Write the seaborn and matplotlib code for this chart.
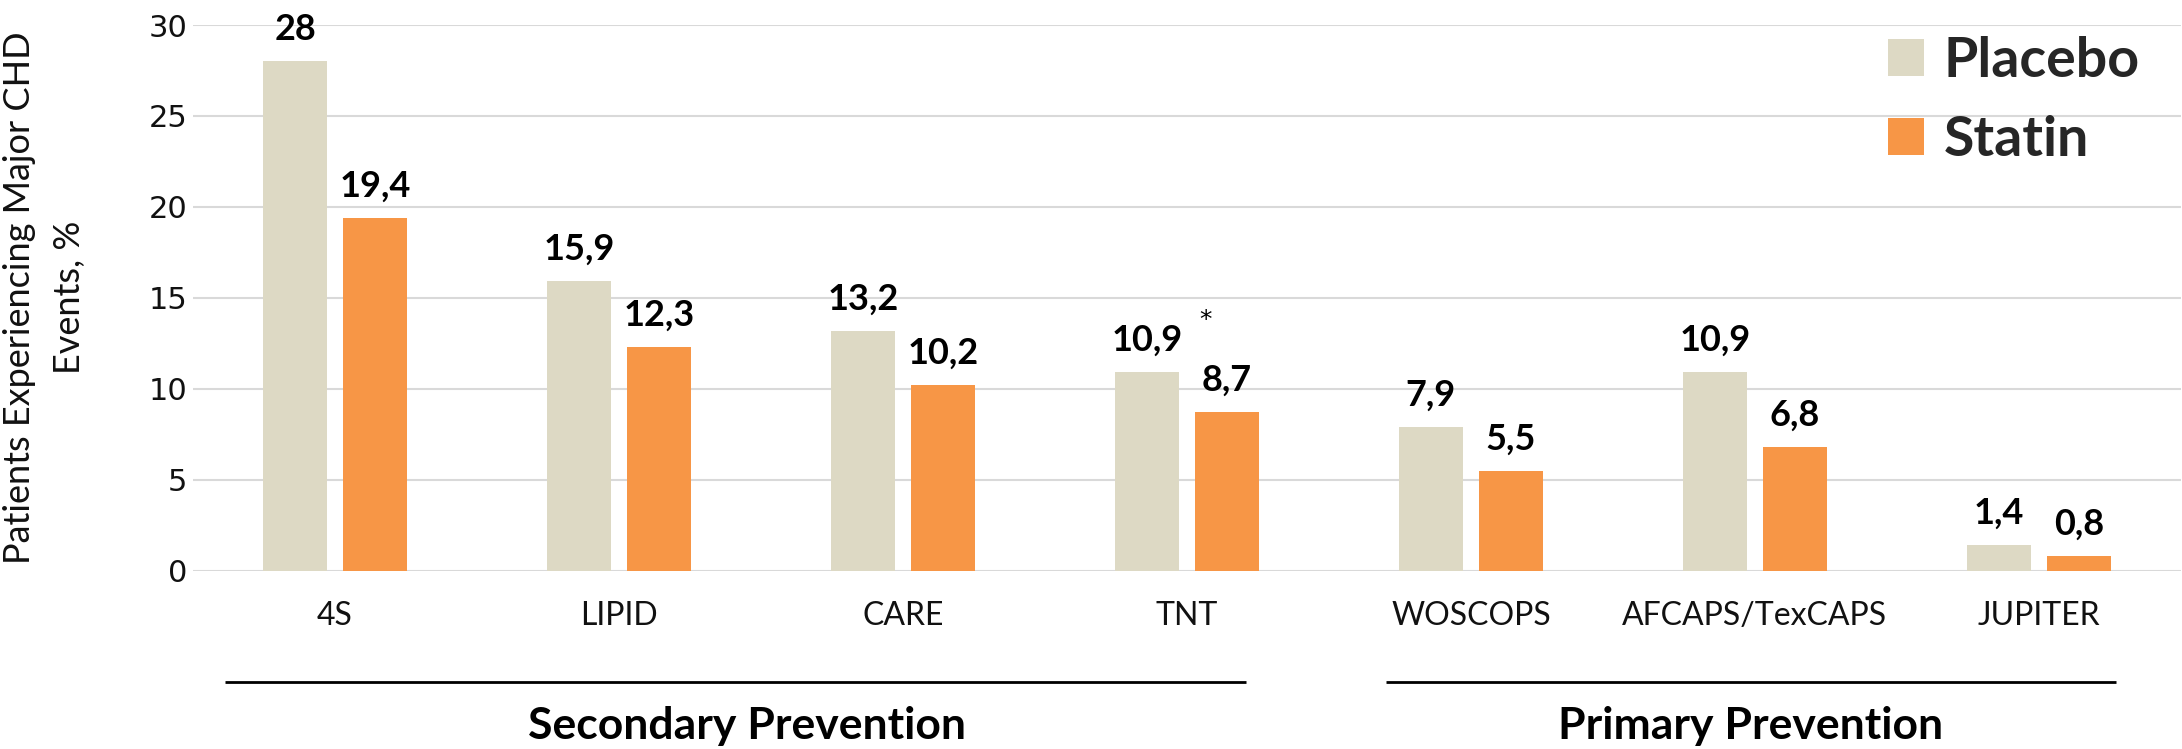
import matplotlib
matplotlib.use("Agg")
import matplotlib.pyplot as plt
import matplotlib.transforms as mtransforms
import seaborn as sns
import pandas as pd

# Trial names and event rates (%)
trials = ["4S", "LIPID", "CARE", "TNT", "WOSCOPS", "AFCAPS/TexCAPS", "JUPITER"]
placebo = [28, 15.9, 13.2, 10.9, 7.9, 10.9, 1.4]
statin = [19.4, 12.3, 10.2, 8.7, 5.5, 6.8, 0.8]
series_names = ["Placebo", "Statin"]
y_ticks = [0, 5, 10, 15, 20, 25, 30]

# Trial grouping shown under the axis: (label, first x, last x, label x)
groups = [
    ("Secondary Prevention", -0.386, 3.207, 1.45),
    ("Primary Prevention", 3.70, 6.27, 4.985),
]

colors = {"Placebo": "#DDD9C4", "Statin": "#F79646"}

df = pd.DataFrame({
    "Trial": trials * 2,
    "Arm": [series_names[0]] * len(trials) + [series_names[1]] * len(trials),
    "Rate": placebo + statin,
})

sns.set_theme(style="whitegrid")
plt.rcParams["font.family"] = ["Lato", "DejaVu Sans"]

fig = plt.figure(figsize=(21.82, 7.49), dpi=100)
ax = fig.add_axes([0.0885, 0.2382, 0.911, 0.7284])

sns.barplot(data=df, x="Trial", y="Rate", hue="Arm", palette=colors,
            width=0.564, gap=0.2, ax=ax, saturation=1, linewidth=0)

ax.set_ylim(0, 30)
ax.set_xlim(-0.5, len(trials) - 0.5)
ax.set_yticks(y_ticks)
ax.grid(axis="y", color="#D9D9D9", linewidth=1.5)
ax.grid(axis="x", visible=False)
ax.set_axisbelow(True)
for s in ax.spines.values():
    s.set_visible(False)

ax.set_xlabel("")
ax.set_ylabel("Patients Experiencing Major CHD\nEvents, %", fontsize=26,
              color="#111111", linespacing=1.62, family=["Lato", "DejaVu Sans"])
ax.yaxis.set_label_coords(-0.054, 0.5)

ax.tick_params(axis="y", length=0, pad=4, labelsize=22, labelcolor="#111111")
for lab in ax.get_yticklabels():
    lab.set_family("DejaVu Sans")
ax.tick_params(axis="x", length=0, pad=22, labelsize=23, labelcolor="#111111")


def fmt(v):
    return f"{v:g}".replace(".", ",")


for cont, vals in zip(ax.containers, [placebo, statin]):
    ax.bar_label(cont, labels=[fmt(v) for v in vals], padding=11,
                 fontsize=26, fontweight="bold", color="#000000", clip_on=False)

# Footnote marker on the TNT placebo value
tnt = trials.index("TNT")
bar = ax.containers[0][tnt]
ax.annotate("*", xy=(bar.get_x() + bar.get_width() / 2, placebo[tnt]),
            xytext=(42, 38), textcoords="offset points",
            ha="center", va="center", fontsize=18, color="#000000",
            family="DejaVu Sans")

# Legend
handles, labels = ax.get_legend_handles_labels()
if ax.get_legend() is not None:
    ax.get_legend().remove()
leg = fig.legend(handles, labels, loc="upper left",
                 bbox_to_anchor=(1888 / 2182, 1 - 36 / 749),
                 frameon=False, borderpad=0, borderaxespad=0,
                 handlelength=0.65, handleheight=0.65, handletextpad=0.35,
                 labelspacing=0.52, prop={"family": "Lato", "weight": "bold", "size": 40})

# Group brackets and labels below the axis
tr = mtransforms.blended_transform_factory(ax.transData, fig.transFigure)
for name, x0, x1, xc in groups:
    ax.plot([x0, x1], [0.0895, 0.0895], transform=tr, color="#000000",
            linewidth=2, clip_on=False, solid_capstyle="butt")
    ax.text(xc, 0.031, name, transform=tr, ha="center", va="center",
            fontsize=32, fontweight="bold", color="#000000")

fig.savefig("out.png", dpi=100)
